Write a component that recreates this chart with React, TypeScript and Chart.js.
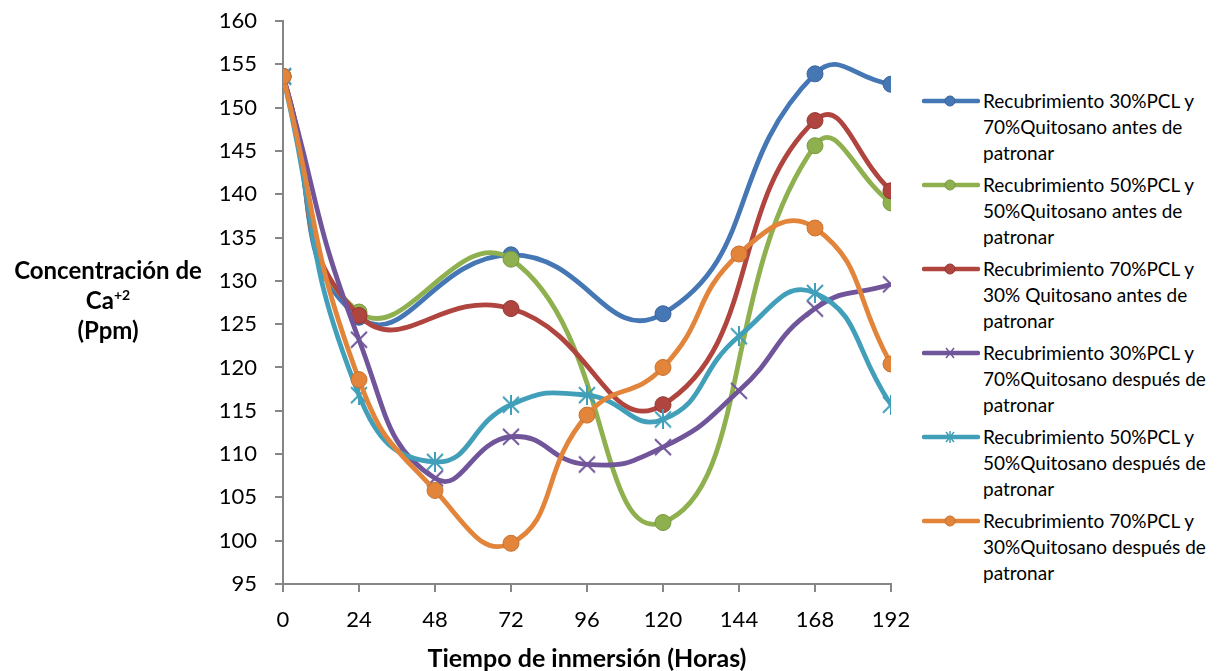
import React, { useEffect, useRef } from "react";
import { Chart, registerables } from "chart.js";
Chart.register(...registerables);

// ---- data ----
const hoursAll = [0, 24, 48, 72, 96, 120, 144, 168, 192];
const hoursSparse = [0, 24, 72, 120, 168, 192];

const s30Antes = [153.6, 125.8, 133.0, 126.2, 153.9, 152.7];
const s50Antes = [153.6, 126.4, 132.5, 102.1, 145.6, 139.0];
const s70Antes = [153.6, 126.0, 126.8, 115.7, 148.5, 140.4];
const s30Despues = [153.6, 123.2, 107.2, 112.0, 108.8, 110.8, 117.3, 126.8, 129.6];
const s50Despues = [153.6, 116.8, 109.1, 115.7, 116.8, 114.0, 123.6, 128.6, 115.7];
const s70Despues = [153.6, 118.6, 105.8, 99.7, 114.5, 120.0, 133.1, 136.1, 120.4];

const seriesNames = [
  ["Recubrimiento 30%PCL y", "70%Quitosano antes de", "patronar"],
  ["Recubrimiento 50%PCL y", "50%Quitosano antes de", "patronar"],
  ["Recubrimiento 70%PCL y", "30% Quitosano antes de", "patronar"],
  ["Recubrimiento 30%PCL y", "70%Quitosano después de", "patronar"],
  ["Recubrimiento 50%PCL y", "50%Quitosano después de", "patronar"],
  ["Recubrimiento 70%PCL y", "30%Quitosano después de", "patronar"],
];

const xTickMin = 0;
const xTickMax = 192;
const xTickStep = 24;
const yTickMin = 95;
const yTickMax = 160;
const yTickStep = 5;

const xTitle = "Tiempo de inmersión (Horas)";

// ---- styles ----
const colors = ["#4677b5", "#8fb04f", "#b0443f", "#70559a", "#419fb9", "#e2843a"];
const borders = ["#3a639a", "#7a9a40", "#953834", "#5e4785", "#3689a0", "#c87230"];
const markers = ["circle", "circle", "circle", "x", "star", "circle"];
const FONT = "Lato, 'Noto Sans', sans-serif";

function makeStar(color: string): HTMLCanvasElement {
  const c = document.createElement("canvas");
  c.width = 20;
  c.height = 20;
  const g = c.getContext("2d")!;
  g.strokeStyle = color;
  g.lineWidth = 2;
  g.beginPath();
  g.moveTo(2, 2); g.lineTo(18, 18);
  g.moveTo(18, 2); g.lineTo(2, 18);
  g.moveTo(10, 0); g.lineTo(10, 20);
  g.stroke();
  return c;
}

function makeX(color: string): HTMLCanvasElement {
  const c = document.createElement("canvas");
  c.width = 20;
  c.height = 20;
  const g = c.getContext("2d")!;
  g.strokeStyle = color;
  g.lineWidth = 2;
  g.beginPath();
  g.moveTo(2, 2); g.lineTo(18, 18);
  g.moveTo(18, 2); g.lineTo(2, 18);
  g.stroke();
  return c;
}

function LegendMarker({ i }: { i: number }) {
  const col = colors[i];
  const m = markers[i];
  return (
    <svg width={58} height={14} style={{ position: "absolute", left: 0, top: 6 }}>
      <line x1={2} y1={7} x2={56} y2={7} stroke={col} strokeWidth={4.5} strokeLinecap="round" />
      {m === "circle" && <circle cx={28} cy={7} r={5} fill={col} stroke={borders[i]} strokeWidth={1} />}
      {m === "x" && (
        <g stroke={col} strokeWidth={1.5}>
          <line x1={24} y1={2} x2={32} y2={12} />
          <line x1={32} y1={2} x2={24} y2={12} />
        </g>
      )}
      {m === "star" && (
        <g stroke={col} strokeWidth={1.5}>
          <line x1={24} y1={2} x2={32} y2={12} />
          <line x1={32} y1={2} x2={24} y2={12} />
          <line x1={28} y1={1} x2={28} y2={13} />
        </g>
      )}
    </svg>
  );
}

export default function App() {
  const ref = useRef<HTMLCanvasElement | null>(null);

  useEffect(() => {
    if (!ref.current) return;
    const allData = [s30Antes, s50Antes, s70Antes, s30Despues, s50Despues, s70Despues];
    const datasets = allData.map((vals, i) => {
      const xs = vals.length === hoursAll.length ? hoursAll : hoursSparse;
      let ps: any = "circle";
      if (markers[i] === "x") ps = makeX(colors[i]);
      if (markers[i] === "star") ps = makeStar(colors[i]);
      return {
        label: seriesNames[i].join(" "),
        data: vals.map((v, k) => ({ x: xs[k], y: v })),
        borderColor: colors[i],
        backgroundColor: colors[i],
        borderWidth: 4.8,
        tension: 0.5,
        pointStyle: ps,
        pointRadius: 8,
        pointBackgroundColor: colors[i],
        pointBorderColor: borders[i],
        pointBorderWidth: 1,
        order: 6 - i,
      };
    });

    const chart = new Chart(ref.current, {
      type: "line",
      data: { datasets },
      options: {
        animation: false,
        responsive: false,
        maintainAspectRatio: false,
        layout: { padding: { left: 200, right: 29, top: 21, bottom: 0 } },
        plugins: { legend: { display: false }, tooltip: { enabled: false } },
        scales: {
          x: {
            type: "linear",
            min: xTickMin,
            max: xTickMax,
            afterFit: (s: any) => {
              s.height = 87;
              s.paddingLeft = 0;
              s.paddingRight = 0;
            },
            ticks: { stepSize: xTickStep, color: "#000", padding: 15, font: { family: FONT, size: 22 } },
            grid: { drawOnChartArea: false, drawTicks: true, tickLength: 8, color: "#868686", lineWidth: 2 },
            border: { color: "#868686", width: 2 },
            title: {
              display: true,
              text: xTitle,
              color: "#000",
              font: { family: FONT, size: 25, weight: "bold", lineHeight: 0.95 },
              padding: { top: 0, bottom: 0 },
            },
          },
          y: {
            type: "linear",
            min: yTickMin,
            max: yTickMax,
            afterFit: (s: any) => {
              s.width = 83;
              s.paddingTop = 0;
              s.paddingBottom = 0;
            },
            ticks: { stepSize: yTickStep, color: "#000", padding: 18, font: { family: FONT, size: 22 } },
            grid: { drawOnChartArea: false, drawTicks: true, tickLength: 8, color: "#868686", lineWidth: 2 },
            border: { color: "#868686", width: 2 },
          },
        },
      } as any,
    });
    return () => chart.destroy();
  }, []);

  return (
    <div style={{ position: "fixed", left: 0, top: 0, width: 1230, height: 671, background: "#fff", fontFamily: FONT }}>
      <canvas ref={ref} width={920} height={671} style={{ position: "absolute", left: 0, top: 0, width: 920, height: 671 }} />
      <div
        style={{
          position: "absolute",
          left: 0,
          top: 255,
          width: 216,
          textAlign: "center",
          fontWeight: "bold",
          fontSize: 24,
          lineHeight: "30px",
          color: "#000",
        }}
      >
        <div>Concentración de</div>
        <div>
          Ca<sup style={{ fontSize: 14, lineHeight: 0, verticalAlign: "9px" }}>+2</sup>
        </div>
        <div>(Ppm)</div>
      </div>
      {seriesNames.map((lines, i) => (
        <div key={i} style={{ position: "absolute", left: 922, top: 88 + i * 84, width: 300 }}>
          <LegendMarker i={i} />
          <div style={{ marginLeft: 61, fontSize: 19, lineHeight: "26px", color: "#000", whiteSpace: "nowrap" }}>
            {lines.map((l, k) => (
              <div key={k}>{l}</div>
            ))}
          </div>
        </div>
      ))}
    </div>
  );
}
